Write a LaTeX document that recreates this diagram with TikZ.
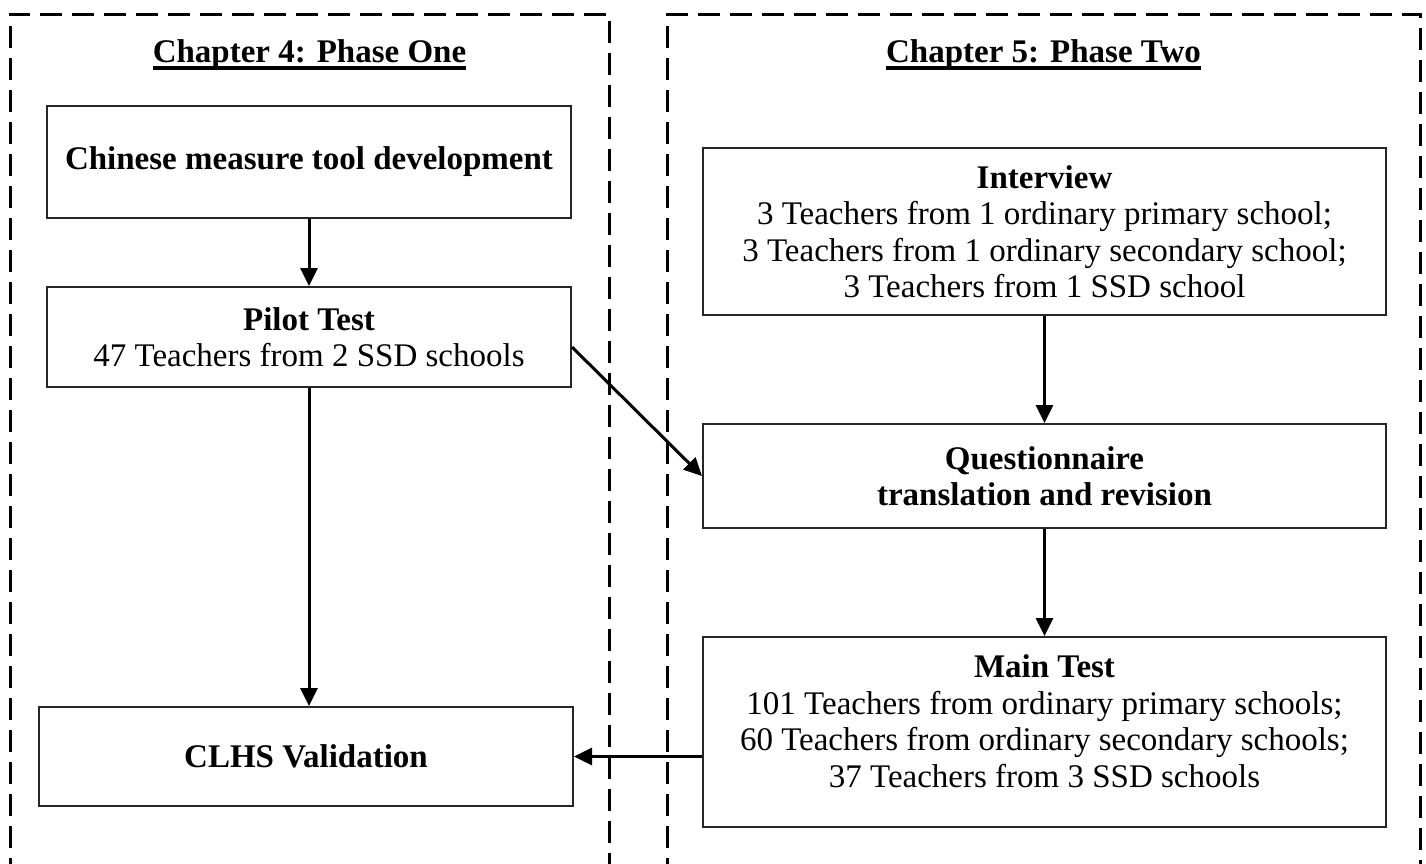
\documentclass[tikz,border=0pt]{standalone}
\usepackage{fontspec}
\setmainfont{Liberation Serif}
\usetikzlibrary{arrows.meta}
\begin{document}
\begin{tikzpicture}[x=1pt, y=-1pt,
  font=\fontsize{33}{36.5}\selectfont,
  frame/.style={line width=3pt, dash pattern=on 22pt off 10pt},
  stage/.style={draw=black!85, line width=2pt, align=center, inner sep=0pt},
  flow/.style={line width=3pt, -{Triangle[length=18pt,width=17pt]}},
  heading/.style={font=\fontsize{33}{36.5}\selectfont\bfseries, inner sep=0pt, anchor=base},
  underbar/.style={line width=3.2pt}]

\useasboundingbox (0,0) rectangle (1426,863);

% phase frames (open at the bottom)
\draw[frame] (10,880) -- (10,14) -- (609,14) -- (609,880);
\draw[frame] (667.5,880) -- (667.5,14) -- (1420,14) -- (1420,880);

% phase headings
\node[heading] (h1) at (309.5,62) {Chapter 4: Phase One};
\node[heading] (h2) at (1043.5,62) {Chapter 5: Phase Two};
\draw[underbar] ([yshift=-6pt]h1.base west) -- ([yshift=-6pt]h1.base east);
\draw[underbar] ([yshift=-6pt]h2.base west) -- ([yshift=-6pt]h2.base east);

% phase one
\node[stage, minimum width=524pt, minimum height=112pt] (A) at (309,162)
  {\textbf{Chinese measure tool development}};
\node[stage, minimum width=524pt, minimum height=100pt] (B) at (309,337)
  {\textbf{Pilot Test}\\47 Teachers from 2 SSD schools};
\node[stage, minimum width=534pt, minimum height=99pt] (C) at (306,756.5)
  {\textbf{CLHS Validation}};

% phase two
\node[stage, minimum width=683pt, minimum height=167pt] (D) at (1044.5,231.5)
  {\textbf{Interview}\\3 Teachers from 1 ordinary primary school;\\
   3 Teachers from 1 ordinary secondary school;\\3 Teachers from 1 SSD school};
\node[stage, minimum width=683pt, minimum height=104pt] (E) at (1044.5,476)
  {\textbf{Questionnaire}\\\textbf{translation and revision}};
\node[stage, minimum width=683pt, minimum height=190pt] (F) at (1044.5,732) {};
\node[align=center, inner sep=0pt] (Ft) at (1044.5,721)
  {\textbf{Main Test}\\101 Teachers from ordinary primary schools;\\
   60 Teachers from ordinary secondary schools;\\37 Teachers from 3 SSD schools};

% connectors
\draw[flow] (A.south) -- (B.north);
\draw[flow] (B.south) -- (B.south |- C.north);
\draw[flow] ([yshift=-10pt]B.east) -- (E.west);
\draw[flow] (D.south) -- (E.north);
\draw[flow] (E.south) -- (F.north);
\draw[flow] (F.west |- C.east) -- (C.east);
\end{tikzpicture}
\end{document}
